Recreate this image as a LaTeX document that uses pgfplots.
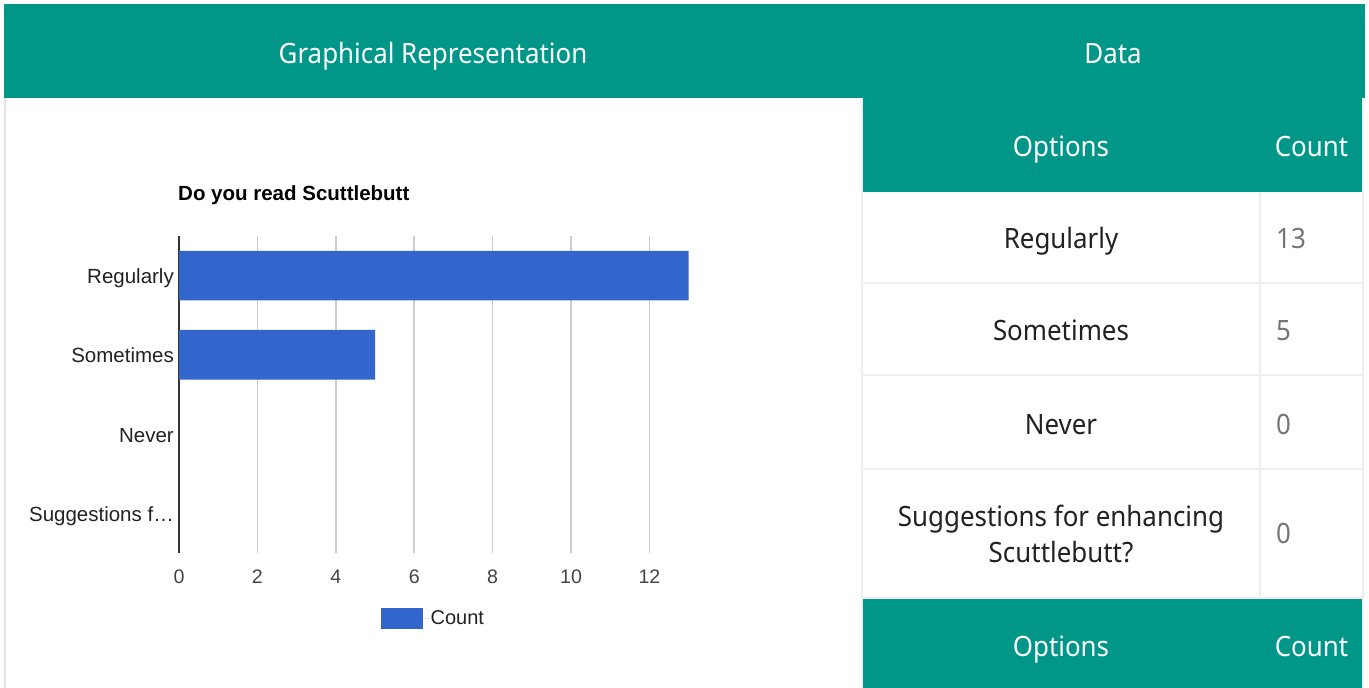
\documentclass[border=0pt]{standalone}
\usepackage{fontspec}
\setmainfont{Noto Sans}[FakeStretch=0.925]
\newfontfamily\arial{Liberation Sans}
\usepackage{pgfplots}
\pgfplotsset{compat=1.18}
\definecolor{mdteal}{HTML}{009688}
\definecolor{barblue}{HTML}{3366CC}
\definecolor{gridgray}{HTML}{CCCCCC}
\definecolor{axisdark}{HTML}{333333}
\definecolor{tickgray}{HTML}{444444}
\definecolor{labeldark}{HTML}{222222}
\definecolor{tablegray}{HTML}{EEEEEE}
\definecolor{panelgray}{HTML}{E4E4E4}
\definecolor{celltext}{HTML}{212121}
\definecolor{countgray}{HTML}{757575}
\newcommand\hdr{\fontsize{28}{34}\selectfont}
\begin{document}
\begin{tikzpicture}[x=1pt,y=-1pt]
\path[use as bounding box, fill=white] (0,0) rectangle (1369,688);
% header bars
\fill[mdteal] (4,4) rectangle (1365,98.3);
\fill[mdteal] (862.5,98) rectangle (1362,192);
\fill[mdteal] (862.5,599) rectangle (1362,688);
% borders
\draw[panelgray, line width=1.5] (5,98) -- (5,688);
\draw[tablegray, line width=1.5] (862,98) -- (862,688);
\draw[tablegray, line width=2] (1363,98) -- (1363,688);
\draw[tablegray, line width=2] (1259.5,192) -- (1259.5,598);
\foreach \yy in {282.5,375,469,598} \draw[tablegray, line width=2] (862,\yy) -- (1363,\yy);
% header texts
\begin{scope}[every node/.style={inner sep=0pt, anchor=base, font=\hdr}]
\node[white] at (433,63.3) {Graphical Representation};
\node[white] at (1113,63.3) {Data};
\node[white] at (1061,156.5) {Options};
\node[white] at (1311.5,156.5) {Count};
\node[white] at (1061,656) {Options};
\node[white] at (1311.5,656) {Count};
\node[celltext] at (1061,248.3) {Regularly};
\node[celltext] at (1061,340.7) {Sometimes};
\node[celltext] at (1061,434) {Never};
\node[celltext] at (1061,526.7) {Suggestions for enhancing};
\node[celltext] at (1061,562.5) {Scuttlebutt?};
\node[countgray, anchor=base west] at (1276,248.3) {13};
\node[countgray, anchor=base west] at (1276,340.7) {5};
\node[countgray, anchor=base west] at (1276,434) {0};
\node[countgray, anchor=base west] at (1276,543) {0};
\end{scope}
% chart title
\node[inner sep=0pt, anchor=base west, font=\arial\bfseries\fontsize{20.5}{24}\selectfont, text=black] at (178,200.7) {Do you read Scuttlebutt};
\begin{axis}[
  at={(179pt,-552.8pt)}, anchor=south west, scale only axis,
  width=509.6pt, height=316.8pt,
  xmin=0, xmax=13, ymin=-0.5, ymax=3.5, y dir=reverse,
  axis line style={draw=none},
  major tick length=0pt,
  xtick={2,4,...,12},
  extra x ticks={0},
  extra x tick style={grid style={draw=axisdark, line width=2pt}},
  xmajorgrids, grid style={draw=gridgray, line width=1.5pt},
  ytick={0,1,2,3},
  yticklabels={Regularly,Sometimes,Never,Suggestions f…},
  /pgf/number format/assume math mode=true,
  xticklabel style={font=\arial\fontsize{19.6}{22}\selectfont, text=tickgray, anchor=base, inner sep=0pt, yshift=-30.3pt},
  yticklabel style={font=\arial\fontsize{20.5}{24}\selectfont, text=labeldark, anchor=base east, inner sep=0pt, xshift=-5pt, yshift=-8pt},
  legend style={at={(0.497,-0.1745)}, anchor=north, draw=none, fill=none, inner sep=0pt, outer sep=0pt,
    font=\arial\fontsize{20}{24}\selectfont, text=labeldark, nodes={inner sep=0pt}},
  clip=false,
]
\addplot[xbar, bar width=49.7pt, fill=barblue, draw=none,
  legend image code/.code={\path (0pt,0pt) -- (50pt,0pt);\fill[barblue] (0pt,-10.5pt) rectangle (42pt,10.5pt);}]
  coordinates {(13,0) (5,1) (0,2) (0,3)};
\legend{Count}
\end{axis}
\end{tikzpicture}
\end{document}
